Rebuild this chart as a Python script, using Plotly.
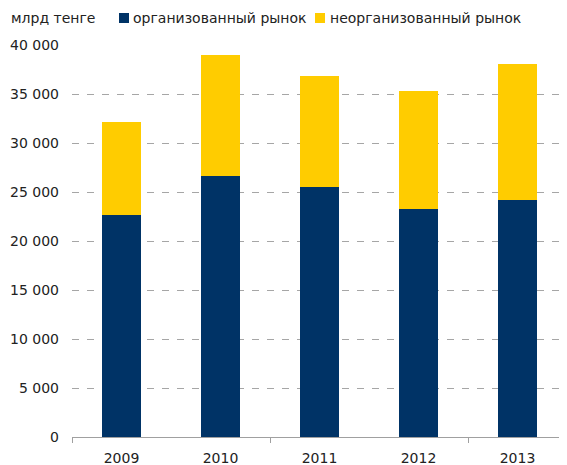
import plotly.graph_objects as go

years = [2009, 2010, 2011, 2012, 2013]
organized = [22650, 26630, 25510, 23270, 24180]
unorganized_total = [32150, 38950, 36840, 35300, 38060]
unorganized = [t - o for t, o in zip(unorganized_total, organized)]
series_names = ["организованный рынок", "неорганизованный рынок"]
y_ticks = [0, 5000, 10000, 15000, 20000, 25000, 30000, 35000, 40000]
y_tick_text = ["0", "5 000", "10 000", "15 000", "20 000", "25 000", "30 000", "35 000", "40 000"]
unit_label = "млрд тенге"

NAVY = "#003366"
YELLOW = "#FFCC00"
COLORS = [NAVY, YELLOW]
FONT = "DejaVu Sans"
FS = 14
TXT = "#222222"

# the page body has an 8px margin; positions below are window pixels
OFF = 8
FIG_W, FIG_H = 567, 465
# plot area in window pixels: x 72..567, y 45..437
WL, WT, WR, WB = 72, 45, 567, 437
L, T = WL - OFF, WT - OFF
R, B = FIG_W - (WR - OFF), FIG_H - (WB - OFF)
W, H = WR - WL, WB - WT

def px(x):
    return (x - WL) / W
def py(y):
    return (WB - y) / H

fig = go.Figure()
fig.add_bar(x=years, y=organized, name=series_names[0], marker=dict(color=NAVY, line=dict(width=0)), width=0.4)
fig.add_bar(x=years, y=unorganized, name=series_names[1], marker=dict(color=YELLOW, line=dict(width=0)), width=0.4)

shapes = []
annotations = [dict(text=unit_label, xref="paper", yref="paper", x=px(9), y=py(18),
                    xanchor="left", yanchor="middle", showarrow=False,
                    font=dict(family=FONT, size=FS, color=TXT))]
leg_sq = [119, 315]
leg_tx = [131, 328]
for name, col, sx, tx in zip(series_names, COLORS, leg_sq, leg_tx):
    shapes.append(dict(type="rect", xref="paper", yref="paper", x0=px(sx), x1=px(sx + 10),
                       y0=py(23), y1=py(13), fillcolor=col, line=dict(width=0)))
    annotations.append(dict(text=name, xref="paper", yref="paper", x=px(tx), y=py(18),
                            xanchor="left", yanchor="middle", showarrow=False,
                            font=dict(family=FONT, size=FS, color=TXT)))

fig.update_layout(
    barmode="stack",
    width=FIG_W, height=FIG_H,
    margin=dict(l=L, r=R, t=T, b=B, autoexpand=False),
    paper_bgcolor="white", plot_bgcolor="white",
    font=dict(family=FONT, size=FS, color=TXT),
    showlegend=False,
    shapes=shapes,
    annotations=annotations,
)
fig.update_xaxes(
    range=[2008.5, 2013.5], automargin=False,
    tickmode="array", tickvals=years, ticktext=[str(y) for y in years],
    ticks="", showgrid=False, zeroline=False,
    showline=True, linecolor="#a0a0a0", linewidth=1,
    ticklabelstandoff=8,
    minor=dict(tickmode="array", tickvals=[2008.5, 2010.5, 2012.5], ticks="outside",
               ticklen=5, tickcolor="#a0a0a0", showgrid=False),
    tickfont=dict(family=FONT, size=FS, color=TXT),
)
fig.update_yaxes(
    range=[0, 40000], automargin=False,
    tickmode="array", tickvals=y_ticks, ticktext=y_tick_text,
    showgrid=True, gridcolor="#a6a6a6", gridwidth=1, griddash="7px,8px",
    zeroline=False, showline=False, ticks="",
    ticklabelstandoff=12,
    tickfont=dict(family=FONT, size=FS, color=TXT),
)
fig.write_html("out.html")
